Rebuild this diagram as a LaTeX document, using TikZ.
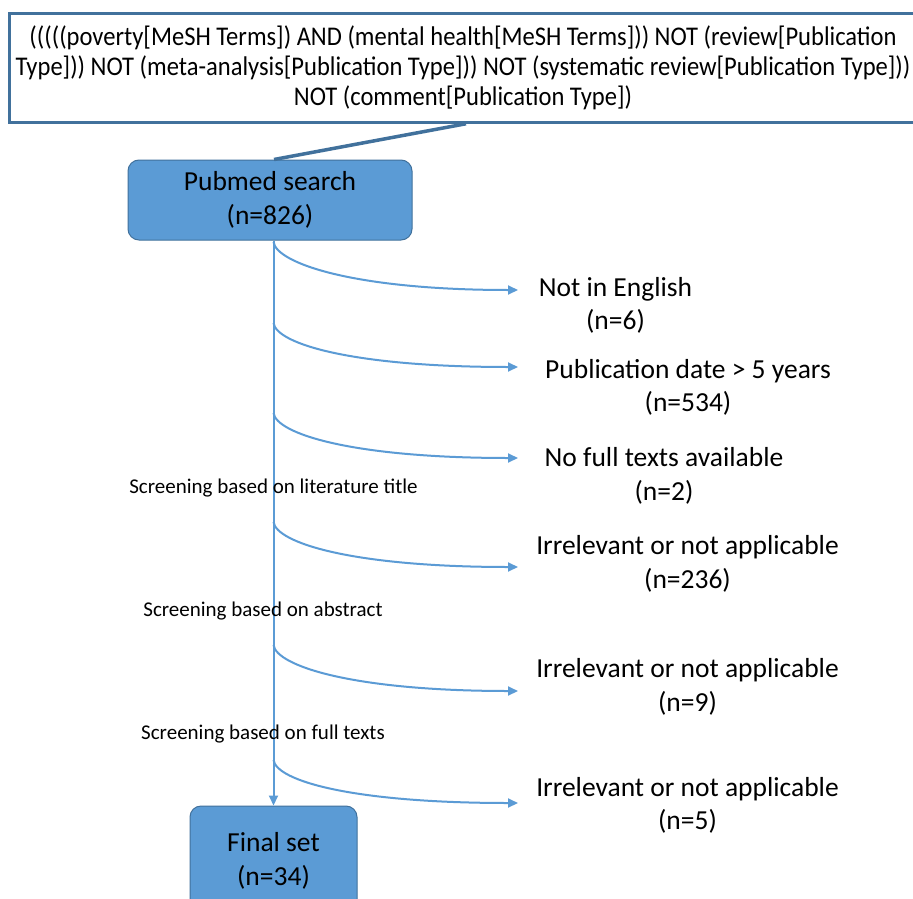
\documentclass[tikz,border=0pt]{standalone}
\usepackage{fontspec}
\setmainfont{Carlito}
\usepackage{graphicx}
\usetikzlibrary{arrows.meta}
\definecolor{boxfill}{HTML}{5B9BD5}
\definecolor{boxline}{HTML}{41719C}
\definecolor{arrowc}{HTML}{5B9BD5}
\newsavebox\qbox
\begin{document}
\sbox\qbox{\fontsize{27}{30}\selectfont (((((poverty[MeSH Terms]) AND (mental health[MeSH Terms])) NOT (review[Publication}%
\pgfmathsetmacro\qf{867/\wd\qbox}%
\begin{tikzpicture}[x=1pt,y=-1pt,
  bigfont/.style={font=\fontsize{27.5}{33.5}\selectfont},
  smallfont/.style={font=\fontsize{21}{25}\selectfont},
  flowbox/.style={draw=boxline,fill=boxfill,line width=1pt,rounded corners=11pt,inner sep=0pt,bigfont,align=center},
  exclabel/.style={bigfont,align=center,inner sep=0pt},
  steplabel/.style={smallfont,inner sep=0pt},
  flowarrow/.style={draw=arrowc,line width=2pt,-{Triangle[length=10pt,width=9pt]}}
]
\clip (0,0) rectangle (913,899);
\fill[white] (0,0) rectangle (913,899);
\node[draw=boxline,line width=3pt,minimum width=908pt,minimum height=108.5pt,inner sep=0pt,
      align=center,font=\fontsize{27}{30}\selectfont] (query) at (463,68)
  {\scalebox{\qf}[1]{(((((poverty[MeSH Terms]) AND (mental health[MeSH Terms])) NOT (review[Publication}\\
   \scalebox{\qf}[1]{Type])) NOT (meta-analysis[Publication Type])) NOT (systematic review[Publication Type]))}\\
   \scalebox{\qf}[1]{NOT (comment[Publication Type])}};
\node[flowbox,minimum width=284pt,minimum height=80pt] (pubmed) at (270,200) {Pubmed search\\(n=826)};
\node[flowbox,minimum width=167pt,minimum height=110pt] (final) at (273.5,861) {Final set\\(n=34)};
\draw[boxline,line width=3.5pt] ([xshift=3pt]query.south) -- ([xshift=4pt]pubmed.north);
\draw[flowarrow] (pubmed.south -| final.north) -- (final.north);
% exclusion labels
\node[exclabel] (e1) at (615.5,305.5) {Not in English\\(n=6)};
\node[exclabel] (e2) at (688,387.5) {Publication date > 5 years\\(n=534)};
\node[exclabel] (e3) at (664,476) {No full texts available\\(n=2)};
\node[exclabel] (e4) at (687.5,564) {Irrelevant or not applicable\\(n=236)};
\node[exclabel] (e5) at (687.5,687) {Irrelevant or not applicable\\(n=9)};
\node[exclabel] (e6) at (687.5,805.5) {Irrelevant or not applicable\\(n=5)};
% step labels
\node[steplabel] (s1) at (273.5,488) {Screening based on literature title};
\node[steplabel] (s2) at (263,611) {Screening based on abstract};
\node[steplabel] (s3) at (263,734) {Screening based on full texts};
% branch points and arrow ends
\coordinate (b1s) at (273.5,242); \coordinate (b1e) at (518,290);
\coordinate (b2s) at (273.5,323); \coordinate (b2e) at (518,367);
\coordinate (b3s) at (273.5,413); \coordinate (b3e) at (518,458);
\coordinate (b4s) at (273.5,522); \coordinate (b4e) at (518,567);
\coordinate (b5s) at (273.5,645); \coordinate (b5e) at (518,691);
\coordinate (b6s) at (273.5,760); \coordinate (b6e) at (518,803);
\foreach \i in {1,...,6}{
  \draw[flowarrow] (b\i s) .. controls +(3,21) and +(-165,0) .. (b\i e);
}
\end{tikzpicture}
\end{document}
